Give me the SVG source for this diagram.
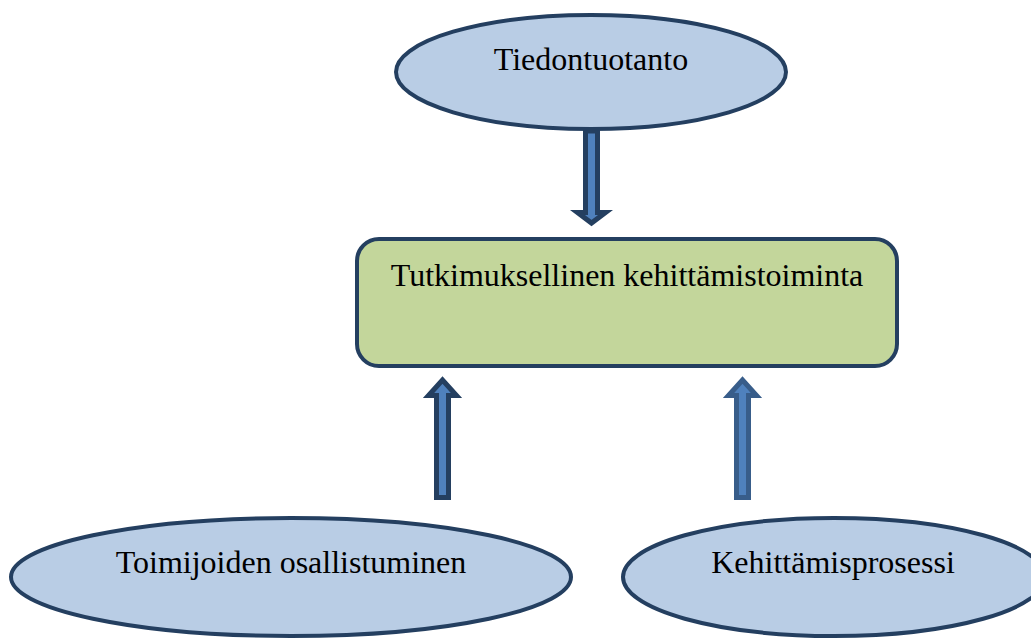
<svg xmlns="http://www.w3.org/2000/svg" width="1031" height="641" viewBox="0 0 1031 641">
  <style>
    .oval { fill: #b9cde5; stroke: #243f60; stroke-width: 4; }
    .box { fill: #c3d69b; stroke: #243f60; stroke-width: 4; }
    .label { font-family: "Liberation Serif", "Times New Roman", serif; font-size: 32px; fill: #000; text-anchor: middle; }
    .arrow { fill: #4f81bd; stroke: #243f60; stroke-width: 5; stroke-linejoin: miter; stroke-miterlimit: 10; }
    .arrow.light { stroke: #385d8a; }
  </style>
  <rect width="1031" height="641" fill="#ffffff"/>

  <g id="connectors">
    <!-- Tiedontuotanto -> centre box -->
    <polygon class="arrow" points="585.5,131 597.5,131 597.5,212.5 605.5,212.5 591.5,223 577.5,212.5 585.5,212.5"/>
    <!-- Toimijoiden osallistuminen -> centre box -->
    <polygon class="arrow" points="436.5,497.5 448.5,497.5 448.5,395.5 456.5,395.5 442.5,380 428.5,395.5 436.5,395.5"/>
    <!-- Kehittämisprosessi -> centre box -->
    <polygon class="arrow light" points="736.5,497.5 748.5,497.5 748.5,395.5 756.5,395.5 742.5,380 728.5,395.5 736.5,395.5"/>
  </g>

  <g id="node-tiedontuotanto">
    <ellipse class="oval" cx="591" cy="72" rx="195" ry="57"/>
    <text class="label" x="591" y="70">Tiedontuotanto</text>
  </g>

  <g id="node-tutkimuksellinen">
    <rect class="box" x="357" y="239" width="540" height="127" rx="22" ry="22"/>
    <text class="label" x="627" y="286">Tutkimuksellinen kehittämistoiminta</text>
  </g>

  <g id="node-toimijoiden">
    <ellipse class="oval" cx="291" cy="577" rx="280" ry="59"/>
    <text class="label" x="291" y="573">Toimijoiden osallistuminen</text>
  </g>

  <g id="node-kehittamisprosessi">
    <ellipse class="oval" cx="834" cy="577" rx="211" ry="59"/>
    <text class="label" x="833" y="573">Kehittämisprosessi</text>
  </g>
</svg>
